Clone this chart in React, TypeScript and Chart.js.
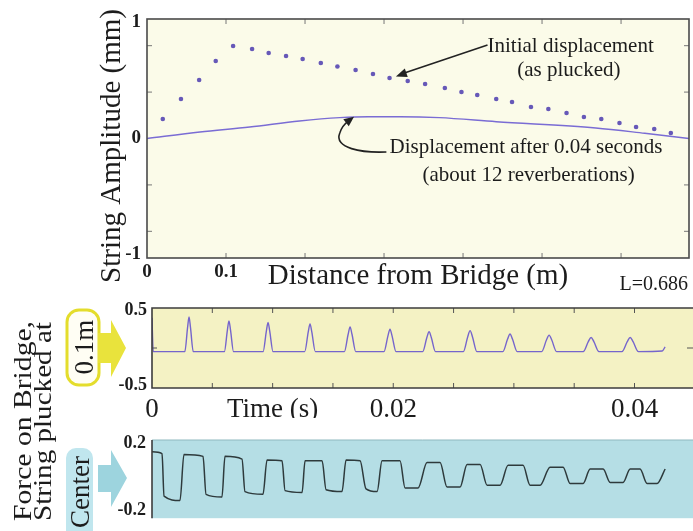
import React, { useEffect, useRef } from 'react';
import { Chart, registerables } from 'chart.js';

Chart.register(...registerables);

const W = 693;
const H = 531;
const SERIF = '"Liberation Serif", "Times New Roman", serif';
const INK = '#1c1c1c';

// ---------- Top panel: string shape ----------
const initialDistance = [0.020, 0.043, 0.066, 0.087, 0.109, 0.133, 0.154, 0.176, 0.197, 0.220, 0.241, 0.264, 0.286, 0.307, 0.330, 0.352, 0.377, 0.398, 0.418, 0.442, 0.462, 0.486, 0.508, 0.531, 0.553, 0.575, 0.598, 0.619, 0.642, 0.663];
const initialAmplitude = [0.168, 0.340, 0.504, 0.668, 0.797, 0.772, 0.737, 0.711, 0.685, 0.651, 0.621, 0.591, 0.556, 0.522, 0.496, 0.470, 0.435, 0.401, 0.375, 0.341, 0.315, 0.272, 0.254, 0.220, 0.185, 0.168, 0.134, 0.099, 0.082, 0.047];
const laterDistance = [0, 0.067, 0.13, 0.193, 0.244, 0.28, 0.32, 0.37, 0.442, 0.568, 0.63, 0.686];
const laterAmplitude = [0, 0.056, 0.099, 0.151, 0.180, 0.188, 0.188, 0.180, 0.145, 0.091, 0.045, 0];
const distanceTicks = [0, 0.1, 0.2, 0.3, 0.4, 0.5, 0.6];
const distanceTickLabels = ['0', '0.1', '', '', '', '', ''];
const amplitudeTicks = [-1, 0, 1];
const amplitudeTickLabels = ['-1', '0', '1'];
const amplitudeMinorTicks = [-0.8, -0.4, 0.4, 0.8];
const stringLength = 0.686;

// ---------- Middle panel: plucked at 0.1 m (time in ms) ----------
const pluckTime = [0, 0.1, 2.72, 2.95, 3.07, 3.19, 3.42, 6.00, 6.25, 6.38, 6.51, 6.76, 9.21, 9.48, 9.62, 9.76, 10.03, 12.66, 12.95, 13.10, 13.25, 13.54, 15.95, 16.26, 16.42, 16.58, 16.89, 19.23, 19.56, 19.73, 19.90, 20.23, 22.44, 22.78, 22.97, 23.16, 23.50, 25.81, 26.17, 26.37, 26.57, 26.93, 29.09, 29.47, 29.68, 29.89, 30.27, 32.30, 32.70, 32.92, 33.14, 33.54, 35.75, 36.17, 36.40, 36.63, 37.05, 38.96, 39.40, 39.64, 39.88, 40.32, 42.3, 42.54];
const pluckForce = [0.40, -0.048, -0.048, 0.273, 0.41, 0.273, -0.048, -0.048, 0.238, 0.36, 0.238, -0.048, -0.048, 0.224, 0.34, 0.224, -0.048, -0.048, 0.21, 0.32, 0.21, -0.048, -0.048, 0.182, 0.28, 0.182, -0.048, -0.048, 0.161, 0.25, 0.161, -0.048, -0.048, 0.136, 0.215, 0.136, -0.048, -0.048, 0.147, 0.23, 0.147, -0.048, -0.048, 0.115, 0.185, 0.115, -0.048, -0.048, 0.105, 0.17, 0.105, -0.048, -0.048, 0.084, 0.14, 0.084, -0.048, -0.048, 0.084, 0.14, 0.084, -0.048, -0.040, 0.015];
const timeTicks = [0, 5, 10, 15, 20, 25, 30, 35, 40];
const timeTickLabels = ['0', '', 'Time (s)', '', '0.02', '', '', '', '0.04'];
const pluckForceTicks = [-0.5, 0, 0.5];
const pluckForceTickLabels = ['-0.5', '', '0.5'];

// ---------- Bottom panel: plucked at center (time in ms) ----------
const centerTime = [0, 0.83, 1.00, 2.32, 2.65, 4.23, 4.48, 5.80, 6.05, 7.46, 7.71, 9.20, 9.54, 10.78, 11.03, 12.44, 12.69, 14.10, 14.43, 15.75, 16.09, 17.25, 17.74, 18.66, 19.07, 20.56, 20.98, 22.06, 22.80, 23.88, 24.46, 25.54, 26.12, 27.20, 27.78, 28.86, 29.52, 30.76, 31.34, 32.17, 33.00, 34.08, 34.66, 35.74, 36.32, 37.40, 37.98, 39.05, 39.64, 40.46, 41.04, 41.87, 42.54];
const centerForce = [0.150, 0.139, -0.113, -0.139, 0.134, 0.123, -0.102, -0.118, 0.123, 0.107, -0.086, -0.102, 0.102, 0.097, -0.080, -0.091, 0.097, 0.097, -0.075, -0.086, 0.102, 0.097, -0.070, -0.086, 0.097, 0.097, -0.064, -0.064, 0.086, 0.086, -0.059, -0.059, 0.075, 0.075, -0.048, -0.048, 0.070, 0.070, -0.048, -0.048, 0.059, 0.059, -0.038, -0.038, 0.048, 0.048, -0.032, -0.032, 0.048, 0.048, -0.038, -0.038, 0.048];
const centerForceTicks = [-0.2, 0.2];
const centerForceTickLabels = ['-0.2', '0.2'];

const toPoints = (xs: number[], ys: number[]) => xs.map((x, i) => ({ x, y: ys[i] }));

function axis(opts: any) {
  const { min, max, ticks, labels, size, bold, pad, fit, horizontal, display = true } = opts;
  return {
    type: 'linear',
    display,
    min,
    max,
    afterBuildTicks: (s: any) => { s.ticks = ticks.map((v: number) => ({ value: v })); },
    afterFit: (s: any) => { if (horizontal) s.height = fit; else s.width = fit; },
    grid: { display: false, drawTicks: false },
    border: { display: false },
    ticks: {
      autoSkip: false,
      maxRotation: 0,
      minRotation: 0,
      padding: pad,
      color: INK,
      font: { family: SERIF, size, weight: bold ? 'bold' : 'normal' },
      callback: (_v: any, i: number) => labels[i],
    },
  };
}

function line(ctx: CanvasRenderingContext2D, x1: number, y1: number, x2: number, y2: number) {
  ctx.beginPath(); ctx.moveTo(x1, y1); ctx.lineTo(x2, y2); ctx.stroke();
}

function arrowHead(ctx: CanvasRenderingContext2D, fx: number, fy: number, tx: number, ty: number, len: number, wid: number) {
  const a = Math.atan2(ty - fy, tx - fx);
  ctx.beginPath();
  ctx.moveTo(tx, ty);
  ctx.lineTo(tx - len * Math.cos(a) + wid * Math.sin(a), ty - len * Math.sin(a) - wid * Math.cos(a));
  ctx.lineTo(tx - len * Math.cos(a) - wid * Math.sin(a), ty - len * Math.sin(a) + wid * Math.cos(a));
  ctx.closePath();
  ctx.fill();
}

function vText(ctx: CanvasRenderingContext2D, text: string, x: number, y: number, stretch = 1) {
  ctx.save();
  ctx.translate(x, y);
  ctx.rotate(-Math.PI / 2);
  ctx.scale(stretch, 1);
  ctx.fillText(text, 0, 0);
  ctx.restore();
}

const topDeco = {
  id: 'topDeco',
  beforeDraw(chart: any) {
    const { ctx, chartArea: a } = chart;
    ctx.save();
    ctx.fillStyle = '#fbfbe9';
    ctx.fillRect(a.left, a.top, a.right - a.left, a.bottom - a.top);
    ctx.restore();
  },
  afterDraw(chart: any) {
    const { ctx, chartArea: a, scales } = chart;
    const xs = scales.x, ys = scales.y;
    const P = (x: number, y: number): [number, number] => [xs.getPixelForValue(x), ys.getPixelForValue(y)];
    ctx.save();
    ctx.strokeStyle = '#777';
    ctx.lineWidth = 1;
    distanceTicks.forEach((v) => {
      if (v === 0) return;
      const px = xs.getPixelForValue(v);
      line(ctx, px, a.bottom, px, a.bottom - 5);
      line(ctx, px, a.top, px, a.top + 5);
    });
    amplitudeMinorTicks.forEach((v) => {
      const py = ys.getPixelForValue(v);
      line(ctx, a.left, py, a.left + 5, py);
      line(ctx, a.right, py, a.right - 5, py);
    });
    ctx.strokeStyle = '#4a4a4a';
    ctx.lineWidth = 1.6;
    ctx.strokeRect(a.left, a.top, a.right - a.left, a.bottom - a.top);

    // axis titles
    ctx.fillStyle = INK;
    ctx.font = `29px ${SERIF}`;
    ctx.textAlign = 'center';
    ctx.textBaseline = 'alphabetic';
    ctx.fillText('Distance from Bridge (m)', (a.left + a.right) / 2, a.bottom + 26);
    vText(ctx, 'String Amplitude (mm)', a.left - 27, 146);
    ctx.font = `20px ${SERIF}`;
    ctx.textAlign = 'right';
    ctx.fillText('L=' + stringLength, a.right - 1, a.bottom + 32);

    // annotations
    ctx.font = `21px ${SERIF}`;
    ctx.textAlign = 'left';
    let p = P(0.431, 0.746);
    ctx.fillText('Initial displacement', p[0], p[1]);
    ctx.textAlign = 'center';
    p = P(0.534, 0.539);
    ctx.fillText('(as plucked)', p[0], p[1]);
    ctx.textAlign = 'left';
    p = P(0.307, -0.125);
    ctx.fillText('Displacement after 0.04 seconds', p[0], p[1]);
    ctx.textAlign = 'center';
    p = P(0.483, -0.366);
    ctx.fillText('(about 12 reverberations)', p[0], p[1]);

    ctx.strokeStyle = '#222';
    ctx.fillStyle = '#222';
    ctx.lineWidth = 1.6;
    const s0 = P(0.431, 0.806), s1 = P(0.322, 0.555);
    line(ctx, s0[0], s0[1], s1[0], s1[1]);
    const s2 = P(0.315, 0.535);
    arrowHead(ctx, s0[0], s0[1], s2[0], s2[1], 11, 4.5);

    const c0 = P(0.303, -0.116), c1 = P(0.272, -0.125), c2 = P(0.236, -0.085), c3 = P(0.244, 0.047);
    const c4 = P(0.247, 0.110), c5 = P(0.254, 0.145), tip = P(0.262, 0.188);
    ctx.beginPath();
    ctx.moveTo(c0[0], c0[1]);
    ctx.bezierCurveTo(c1[0], c1[1], c2[0], c2[1], c3[0], c3[1]);
    ctx.quadraticCurveTo(c4[0], c4[1], c5[0], c5[1]);
    ctx.stroke();
    arrowHead(ctx, c4[0], c4[1], tip[0], tip[1], 10, 4.5);
    ctx.restore();
  },
};

const midDeco = {
  id: 'midDeco',
  beforeDraw(chart: any) {
    const { ctx, chartArea: a } = chart;
    ctx.save();
    ctx.fillStyle = '#f4f2c4';
    ctx.fillRect(a.left, a.top, a.right - a.left + 3, a.bottom - a.top);
    ctx.restore();
  },
  afterDraw(chart: any) {
    const { ctx, chartArea: a, scales } = chart;
    const xs = scales.x, ys = scales.y;
    ctx.save();
    ctx.strokeStyle = '#555';
    ctx.lineWidth = 1;
    timeTicks.forEach((v) => {
      if (v === 0) return;
      const px = xs.getPixelForValue(v);
      line(ctx, px, a.bottom, px, a.bottom - 5);
      line(ctx, px, a.top, px, a.top + 5);
    });
    const z = ys.getPixelForValue(0);
    line(ctx, a.left, z, a.left + 5, z);
    line(ctx, a.right - 3, z, a.right + 3, z);
    ctx.strokeStyle = '#3c3c3c';
    ctx.lineWidth = 1.6;
    ctx.beginPath();
    ctx.moveTo(a.right + 3, a.top);
    ctx.lineTo(a.left, a.top);
    ctx.lineTo(a.left, a.bottom);
    ctx.lineTo(a.right + 3, a.bottom);
    ctx.stroke();
    ctx.restore();
  },
};

const botDeco = {
  id: 'botDeco',
  beforeDraw(chart: any) {
    const { ctx, chartArea: a } = chart;
    ctx.save();
    ctx.fillStyle = '#b5dee5';
    ctx.fillRect(a.left, a.top, a.right - a.left + 3, a.bottom - a.top + 4);
    ctx.restore();
  },
  afterDraw(chart: any) {
    const { ctx, chartArea: a } = chart;
    ctx.save();
    ctx.strokeStyle = '#8fb8bf';
    ctx.lineWidth = 1;
    line(ctx, a.left, a.top, a.right + 3, a.top);
    ctx.strokeStyle = '#3c3c3c';
    ctx.lineWidth = 1.6;
    line(ctx, a.left, a.top, a.left, a.bottom + 4);

    // left-hand shared label (two lines, rotated)
    ctx.fillStyle = INK;
    ctx.font = `26px ${SERIF}`;
    ctx.textAlign = 'left';
    ctx.textBaseline = 'alphabetic';
    vText(ctx, 'Force on Bridge,', 31, 521, 1.14);
    vText(ctx, 'String plucked at', 51, 521, 1.12);

    // "0.1m" tag + yellow arrow
    ctx.fillStyle = '#fffef4';
    ctx.strokeStyle = '#e4dd2c';
    ctx.lineWidth = 3;
    ctx.beginPath(); ctx.roundRect(67, 310, 32, 75, 12); ctx.fill(); ctx.stroke();
    ctx.fillStyle = '#e9e33c';
    ctx.beginPath();
    ctx.moveTo(98, 333); ctx.lineTo(111, 333); ctx.lineTo(111, 320); ctx.lineTo(126, 348);
    ctx.lineTo(111, 377); ctx.lineTo(111, 363); ctx.lineTo(98, 363); ctx.closePath(); ctx.fill();
    ctx.fillStyle = INK;
    ctx.font = `27px ${SERIF}`;
    ctx.textAlign = 'center';
    vText(ctx, '0.1m', 93, 347);

    // "Center" tag + cyan arrow
    ctx.fillStyle = '#c0e6ee';
    ctx.beginPath(); ctx.roundRect(66, 448, 27, 95, 10); ctx.fill();
    ctx.fillStyle = '#9dd4de';
    ctx.beginPath();
    ctx.moveTo(98, 465); ctx.lineTo(111, 465); ctx.lineTo(111, 450); ctx.lineTo(127, 478);
    ctx.lineTo(111, 507); ctx.lineTo(111, 492); ctx.lineTo(98, 492); ctx.closePath(); ctx.fill();
    ctx.fillStyle = INK;
    vText(ctx, 'Center', 89, 492);
    ctx.restore();
  },
};

const baseOptions = {
  responsive: false,
  animation: false as const,
  devicePixelRatio: 1,
  events: [] as any[],
  plugins: { legend: { display: false }, tooltip: { enabled: false } },
};

function topConfig(): any {
  return {
    type: 'scatter',
    data: {
      datasets: [
        { data: toPoints(initialDistance, initialAmplitude), showLine: false, pointRadius: 2.3, pointBackgroundColor: '#6658b8', pointBorderWidth: 0 },
        { data: toPoints(laterDistance, laterAmplitude), showLine: true, pointRadius: 0, borderColor: '#7a6cd4', borderWidth: 1.4, cubicInterpolationMode: 'monotone' },
      ],
    },
    options: {
      ...baseOptions,
      layout: { padding: { left: 0, right: 3, top: 19, bottom: 243 } },
      scales: {
        x: axis({ min: 0, max: stringLength, ticks: distanceTicks, labels: distanceTickLabels, size: 19, bold: true, pad: 3, fit: 30, horizontal: true }),
        y: axis({ min: -1.03, max: 1.03, ticks: amplitudeTicks, labels: amplitudeTickLabels, size: 19, bold: true, pad: 6, fit: 147 }),
      },
    },
    plugins: [topDeco],
  };
}

function midConfig(): any {
  return {
    type: 'scatter',
    data: {
      datasets: [
        { data: toPoints(pluckTime, pluckForce), showLine: true, pointRadius: 0, borderColor: '#7565cc', borderWidth: 1.4, cubicInterpolationMode: 'monotone' },
      ],
    },
    options: {
      ...baseOptions,
      layout: { padding: { left: 0, right: 3, top: 308, bottom: 113 } },
      scales: {
        x: axis({ min: 0, max: 44.6, ticks: timeTicks, labels: timeTickLabels, size: 27, bold: false, pad: 6, fit: 30, horizontal: true }),
        y: axis({ min: -0.53, max: 0.53, ticks: pluckForceTicks, labels: pluckForceTickLabels, size: 18, bold: true, pad: 5, fit: 152 }),
      },
    },
    plugins: [midDeco],
  };
}

function botConfig(): any {
  return {
    type: 'scatter',
    data: {
      datasets: [
        { data: toPoints(centerTime, centerForce), showLine: true, pointRadius: 0, borderColor: '#2e3a3c', borderWidth: 1.5, cubicInterpolationMode: 'monotone' },
      ],
    },
    options: {
      ...baseOptions,
      layout: { padding: { left: 0, right: 3, top: 440, bottom: 9 } },
      scales: {
        x: axis({ min: 0, max: 44.6, ticks: timeTicks, labels: timeTickLabels, size: 20, bold: false, pad: 4, fit: 0, horizontal: true, display: false }),
        y: axis({ min: -0.22, max: 0.22, ticks: centerForceTicks, labels: centerForceTickLabels, size: 18, bold: true, pad: 6, fit: 152 }),
      },
    },
    plugins: [botDeco],
  };
}

export default function App() {
  const r1 = useRef<HTMLCanvasElement>(null);
  const r2 = useRef<HTMLCanvasElement>(null);
  const r3 = useRef<HTMLCanvasElement>(null);
  useEffect(() => {
    const charts = [
      new Chart(r1.current as HTMLCanvasElement, topConfig()),
      new Chart(r2.current as HTMLCanvasElement, midConfig()),
      new Chart(r3.current as HTMLCanvasElement, botConfig()),
    ];
    return () => charts.forEach((c) => c.destroy());
  }, []);
  const cs: React.CSSProperties = { position: 'absolute', left: 0, top: 0, width: W, height: H };
  return (
    <div style={{ position: 'absolute', left: 0, top: 0, width: W, height: H, background: '#fff', overflow: 'hidden' }}>
      <canvas ref={r1} width={W} height={H} style={cs} />
      <canvas ref={r2} width={W} height={H} style={cs} />
      <canvas ref={r3} width={W} height={H} style={cs} />
    </div>
  );
}
